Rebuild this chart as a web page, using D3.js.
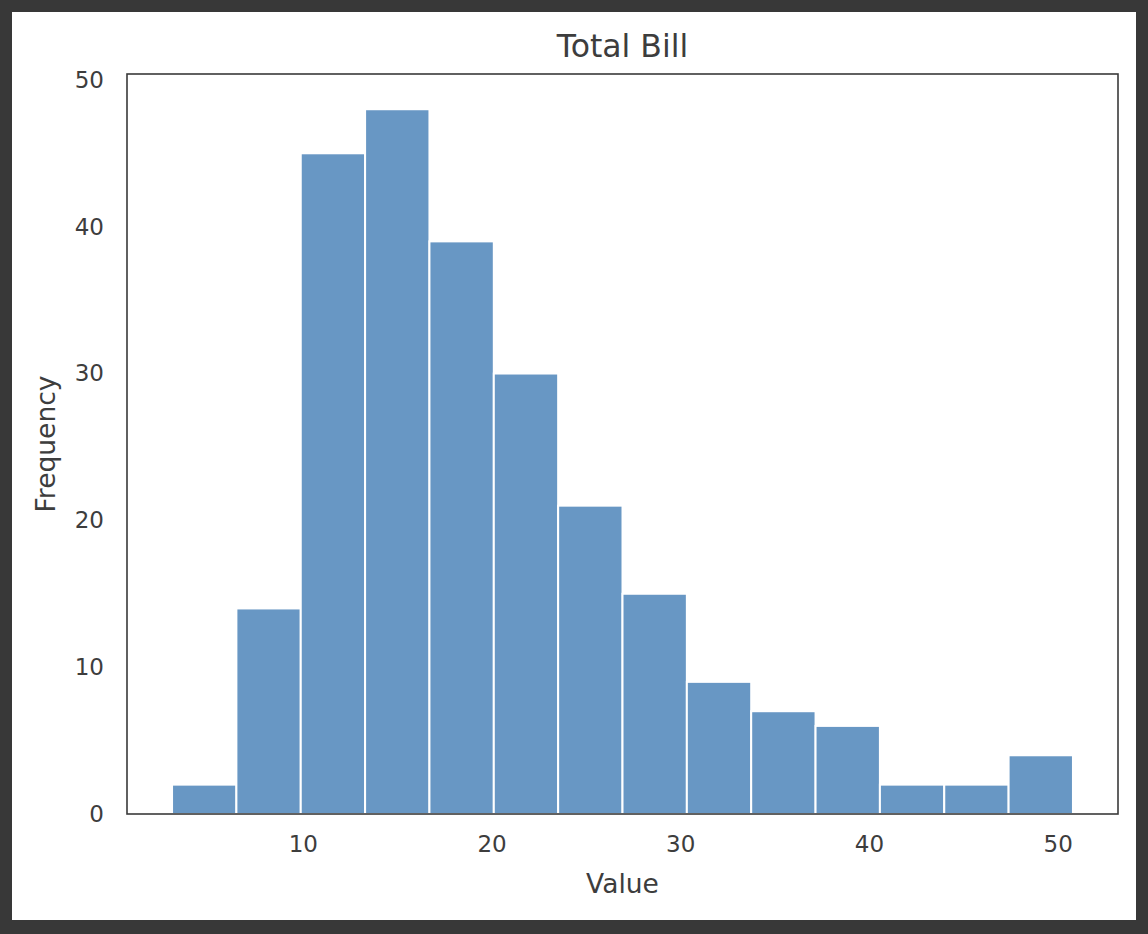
<!DOCTYPE html>
<html><head><meta charset="utf-8">
<script src="https://cdn.jsdelivr.net/npm/d3@7"></script>
<style>
html,body{margin:0;padding:0;background:#383838;}
svg{display:block;}
</style></head>
<body>
<svg id="chart" width="1148" height="934"></svg>
<script>
const binEdges = [3.07, 6.48, 9.89, 13.30, 16.71, 20.12, 23.53, 26.94, 30.35, 33.76, 37.17, 40.58, 43.99, 47.40, 50.81];
const counts = [2, 14, 45, 48, 39, 30, 21, 15, 9, 7, 6, 2, 2, 4];
const xTicks = [10, 20, 30, 40, 50];
const yTicks = [0, 10, 20, 30, 40, 50];

const svg = d3.select("#chart");
svg.append("rect").attr("x",12).attr("y",12).attr("width",1124).attr("height",908).attr("fill","#ffffff");

const L=127, R=1118, T=74, B=814;
const x = d3.scaleLinear().domain([0.683, 53.197]).range([L, R]);
const y = d3.scaleLinear().domain([0, 50.4]).range([B, T]);

const bins = counts.map((c,i)=>({x0:binEdges[i], x1:binEdges[i+1], c}));
svg.append("g").selectAll("rect").data(bins).join("rect")
  .attr("x", d=>x(d.x0)).attr("width", d=>x(d.x1)-x(d.x0))
  .attr("y", d=>y(d.c)).attr("height", d=>y(0)-y(d.c))
  .attr("fill","#6897c4").attr("stroke","#ffffff").attr("stroke-width",2);

const font = "'DejaVu Sans', sans-serif";
const txt = "#3d3d3d";
const xAxis = svg.append("g").attr("transform",`translate(0,${B})`)
  .call(d3.axisBottom(x).tickValues(xTicks).tickSize(0).tickPadding(22).tickFormat(d3.format("d")));
xAxis.select(".domain").remove();
xAxis.selectAll("text").attr("font-family",font).attr("font-size",23).attr("fill",txt);

const yAxis = svg.append("g").attr("transform",`translate(${L},0)`)
  .call(d3.axisLeft(y).tickValues(yTicks).tickSize(0).tickPadding(23).tickFormat(d3.format("d")));
yAxis.select(".domain").remove();
yAxis.selectAll("text").attr("font-family",font).attr("font-size",23).attr("fill",txt);

svg.append("rect").attr("x",L).attr("y",T).attr("width",R-L).attr("height",B-T)
  .attr("fill","none").attr("stroke","#3a3a3a").attr("stroke-width",1.6);

svg.append("text").attr("x",(L+R)/2).attr("y",57).attr("text-anchor","middle")
  .attr("font-family",font).attr("font-size",31.5).attr("fill",txt).text("Total Bill");
svg.append("text").attr("x",(L+R)/2).attr("y",893).attr("text-anchor","middle")
  .attr("font-family",font).attr("font-size",26.5).attr("fill",txt).text("Value");
svg.append("text").attr("transform",`translate(55,${(T+B)/2}) rotate(-90)`).attr("text-anchor","middle")
  .attr("font-family",font).attr("font-size",26.5).attr("fill",txt).text("Frequency");
</script>
</body></html>
